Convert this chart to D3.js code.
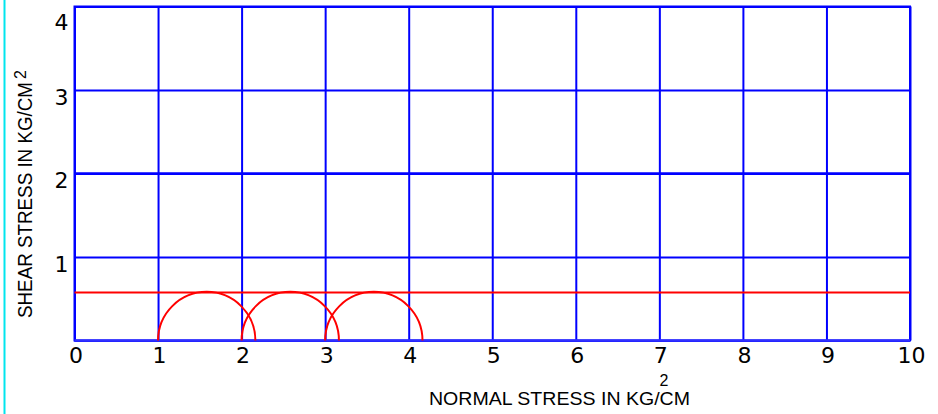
<!DOCTYPE html>
<html>
<head>
<meta charset="utf-8">
<script src="https://cdn.jsdelivr.net/npm/d3@7"></script>
<style>
  html, body { margin: 0; padding: 0; background: #ffffff; }
  svg { display: block; }
  text { font-family: "Liberation Sans", Arial, sans-serif; fill: #000; }
  .tick text { font-family: "DejaVu Sans", sans-serif; }
</style>
</head>
<body>
<svg id="chart" width="938" height="414"></svg>
<script>
// ---- data ----
const xTicks = [0, 1, 2, 3, 4, 5, 6, 7, 8, 9, 10];
const yTicks = [0, 1, 2, 3, 4];
const xTickLabels = ["0", "1", "2", "3", "4", "5", "6", "7", "8", "9", "10"];
const yTickLabels = ["", "1", "2", "3", "4"];
// Mohr circles: minor and major principal stresses (kg/cm^2)
const sigma3 = [1.0, 2.0, 3.0];
const sigma1 = [2.165, 3.165, 4.165];
// failure envelope (cohesion, horizontal line)
const cohesion = 0.575;
const xTitle = "NORMAL STRESS IN KG/CM";
const yTitle = "SHEAR STRESS IN KG/CM";
const unitPower = "2";

// ---- layout ----
const svg = d3.select("#chart");
const x = d3.scaleLinear().domain([0, 10]).range([74.5, 910]);
const y = d3.scaleLinear().domain([0, 4]).range([340.5, 6.5]);
const blue = "#0000ff";

// cyan left border line
svg.append("line")
  .attr("x1", 4.5).attr("x2", 4.5).attr("y1", 0).attr("y2", 414)
  .attr("stroke", "#00e5ee").attr("stroke-width", 2);

// vertical grid + x tick labels
const gx = svg.append("g").attr("transform", `translate(0,${y(0)})`)
  .call(d3.axisBottom(x).tickValues(xTicks)
    .tickSizeInner(-(y(0) - y(4))).tickSizeOuter(0).tickPadding(8)
    .tickFormat((d, i) => xTickLabels[i]));
gx.select(".domain").remove();
gx.selectAll(".tick line").attr("stroke", blue).attr("stroke-width", 2);
gx.selectAll(".tick text")
  .attr("y", 22).attr("dy", 0).attr("x", 1)
  .style("font-size", "22px")
  .attr("fill", "#000");

// horizontal grid + y tick labels
const gy = svg.append("g").attr("transform", `translate(${x(0)},0)`)
  .call(d3.axisLeft(y).tickValues(yTicks)
    .tickSizeInner(-(x(10) - x(0))).tickSizeOuter(0).tickPadding(6)
    .tickFormat((d, i) => yTickLabels[i]));
gy.select(".domain").remove();
gy.selectAll(".tick line").attr("stroke", blue).attr("stroke-width", 2);
gy.selectAll(".tick text")
  .attr("dy", 0)
  .attr("y", d => Math.max(14, 29 - y(d)))
  .style("font-size", "22px")
  .attr("fill", "#000");

// slightly heavier 2-line as in reference
svg.append("line")
  .attr("x1", x(0)).attr("x2", x(10)).attr("y1", y(2)).attr("y2", y(2))
  .attr("stroke", blue).attr("stroke-width", 2.6);

// frame
svg.append("rect")
  .attr("x", x(0)).attr("y", y(4))
  .attr("width", x(10) - x(0)).attr("height", y(0) - y(4))
  .attr("fill", "none").attr("stroke", blue).attr("stroke-width", 2);
svg.append("line")
  .attr("x1", x(0)).attr("x2", x(10)).attr("y1", y(0)).attr("y2", y(0))
  .attr("stroke", "#3030ff").attr("stroke-width", 2.4);

// failure envelope
svg.append("line")
  .attr("x1", x(0)).attr("x2", x(10)).attr("y1", y(cohesion)).attr("y2", y(cohesion))
  .attr("stroke", "#ff0000").attr("stroke-width", 2);

// Mohr semicircles
const circles = sigma3.map((s3, i) => ({ s3, s1: sigma1[i] }));
svg.append("g").selectAll("path").data(circles).join("path")
  .attr("d", d => {
    const c = (d.s1 + d.s3) / 2, r = (d.s1 - d.s3) / 2;
    const rx = x(c + r) - x(c), ry = y(0) - y(r);
    return `M${x(d.s3)},${y(0)} A${rx},${ry} 0 0 1 ${x(d.s1)},${y(0)}`;
  })
  .attr("fill", "none").attr("stroke", "#ff0000").attr("stroke-width", 2);

// x title
svg.append("text")
  .attr("x", 429).attr("y", 405)
  .attr("textLength", 261).attr("lengthAdjust", "spacingAndGlyphs")
  .style("font-size", "18px")
  .text(xTitle);
svg.append("text")
  .attr("x", 664).attr("y", 386).attr("text-anchor", "middle")
  .style("font-size", "16px")
  .text(unitPower);

// y title
svg.append("text")
  .attr("transform", "translate(32,318) rotate(-90)")
  .attr("textLength", 236).attr("lengthAdjust", "spacingAndGlyphs")
  .style("font-size", "20px")
  .text(yTitle);
svg.append("text")
  .attr("transform", "translate(26,79) rotate(-90)")
  .style("font-size", "16px")
  .text(unitPower);
</script>
</body>
</html>
